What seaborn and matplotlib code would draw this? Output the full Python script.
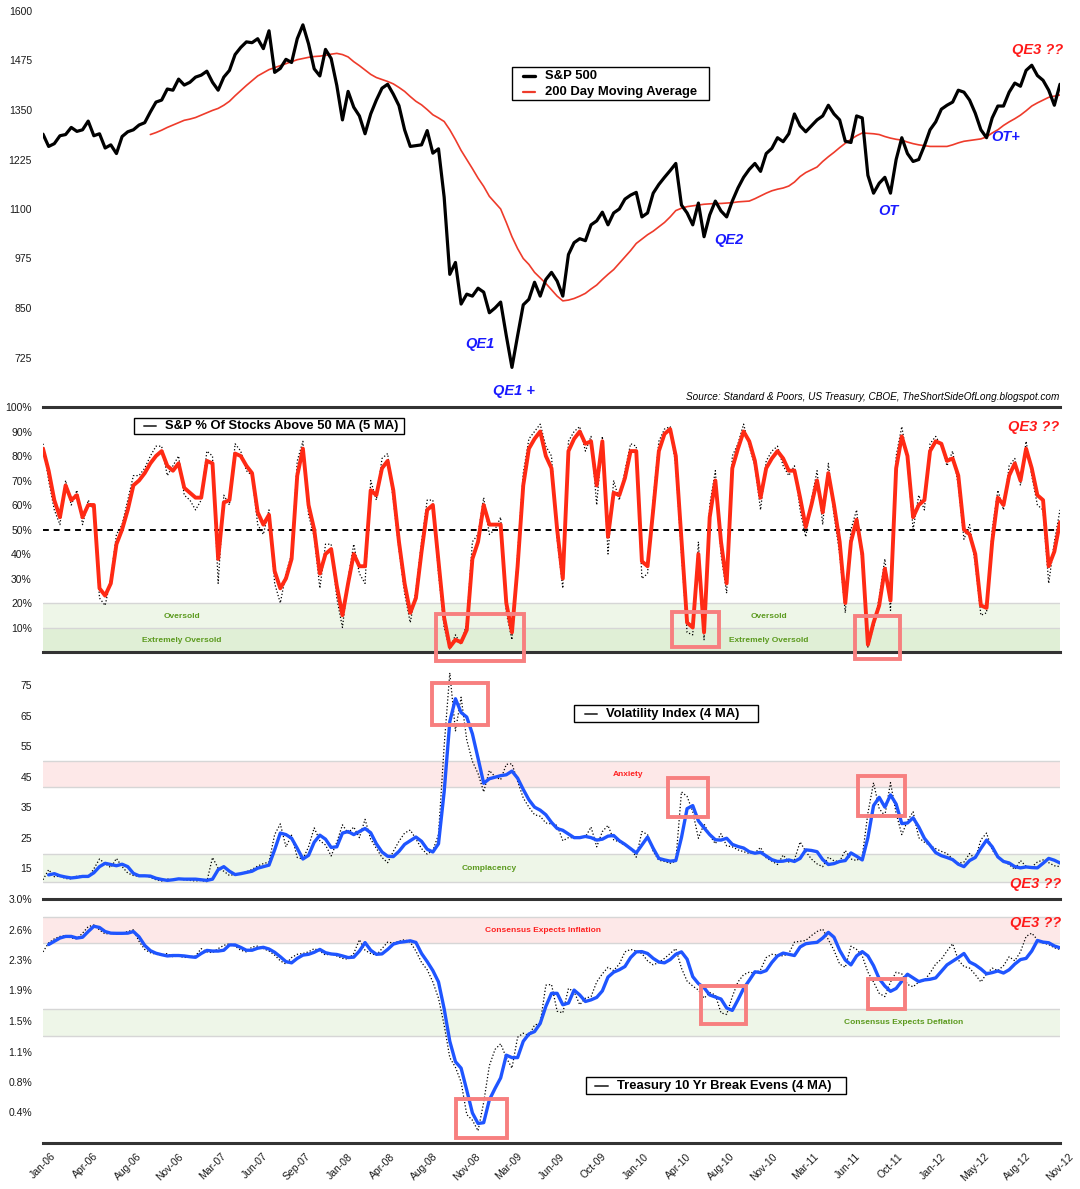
import numpy as np
import pandas as pd
import matplotlib
matplotlib.use("Agg")
import matplotlib.pyplot as plt
import seaborn as sns
from matplotlib.patches import Rectangle
from matplotlib.lines import Line2D

nan = np.nan

# biweekly readings, 6 Jan 2006 .. 30 Nov 2012
dates = pd.date_range("2006-01-06", periods=181, freq="14D")
tick_dates = pd.date_range("2006-01-06", periods=25, freq="105D")
x_tick_labels = ["Jan-06", "Apr-06", "Aug-06", "Nov-06", "Mar-07", "Jun-07", "Sep-07", "Jan-08",
                 "Apr-08", "Aug-08", "Nov-08", "Mar-09", "Jun-09", "Oct-09", "Jan-10", "Apr-10",
                 "Aug-10", "Nov-10", "Mar-11", "Jun-11", "Oct-11", "Jan-12", "May-12", "Aug-12", "Nov-12"]

sp500 = [1289, 1258, 1265, 1285, 1288, 1306, 1296, 1300, 1322, 1285, 1290, 1254, 1262, 1240, 1283, 1295,
         1300, 1312, 1318, 1345, 1370, 1375, 1403, 1400, 1428, 1413, 1420,
         1433, 1438, 1448, 1420, 1400, 1433, 1450, 1490, 1508, 1522, 1520, 1530, 1505, 1550, 1445, 1455,
         1478, 1470, 1530, 1565, 1517, 1454, 1436, 1503, 1480, 1412, 1325, 1397, 1357, 1335, 1290, 1340,
         1375, 1405, 1415, 1390, 1361, 1300, 1258, 1260, 1262, 1298, 1241, 1252, 1130, 935, 965, 860,
         885, 880, 900, 890, 838, 850, 865, 780, 700, 780, 858, 872, 915, 880,
         922, 940, 918, 880, 985, 1015, 1025, 1020, 1060, 1070, 1092, 1060, 1090, 1100, 1125, 1135,
         1142, 1080, 1090, 1140, 1162, 1180, 1197, 1215, 1110, 1090, 1060, 1115, 1030, 1085, 1120, 1095,
         1080, 1120, 1153, 1180, 1200, 1215, 1195, 1240, 1253, 1280, 1270, 1290, 1340, 1310, 1295, 1310,
         1325, 1335, 1362, 1340, 1325, 1271, 1268, 1335, 1330, 1185, 1140, 1165, 1180, 1140, 1225, 1280,
         1240, 1220, 1225, 1260, 1300, 1320, 1352, 1362, 1370, 1400, 1395, 1375, 1342, 1300, 1280, 1330,
         1360, 1360, 1395, 1418, 1410, 1450, 1463, 1437, 1425, 1400, 1362, 1415]

sp500_ma200 = [nan] * 19 + [
    1288, 1293, 1299, 1306, 1312, 1318, 1324, 1327,
    1331, 1337, 1343, 1349, 1354, 1362, 1372, 1386, 1399, 1412, 1424, 1436, 1444, 1452, 1457, 1462,
    1467, 1472, 1477, 1480, 1483, 1485, 1486, 1488, 1491, 1493, 1490, 1484, 1472, 1462, 1451, 1440,
    1432, 1427, 1422, 1416, 1407, 1397, 1384, 1372, 1363, 1351, 1338, 1330, 1321, 1300, 1275, 1248,
    1225, 1202, 1178, 1157, 1132, 1116, 1100, 1066, 1030, 1000, 975, 960, 940, 926,
    912, 896, 880, 868, 870, 874, 880, 887, 898, 908, 922, 935, 947, 963, 979, 995, 1013, 1024, 1035,
    1044, 1055, 1066, 1080, 1096, 1102, 1106, 1108, 1110, 1112, 1113, 1114, 1114, 1115, 1116, 1118,
    1119, 1120, 1126, 1133, 1140, 1146, 1150, 1153, 1158, 1168, 1182, 1192, 1199,
    1206, 1220, 1232, 1243, 1255, 1266, 1276, 1285, 1292, 1291, 1290, 1288, 1283, 1279, 1276, 1274,
    1269, 1265, 1262, 1260, 1258, 1258, 1258, 1258, 1262, 1267, 1271, 1273, 1275, 1277, 1282, 1292,
    1300, 1311, 1320, 1328, 1337, 1348, 1360, 1368, 1375, 1382, 1385, 1388]

above50_ma5 = [83, 74, 62, 55, 68, 62, 64, 55, 60, 60, 26, 23, 28, 44, 50, 58, 68, 70, 73, 77, 80, 82, 76,
               74, 77, 67, 65,
               63, 63, 78, 77, 38, 61, 62, 81, 80, 76, 73, 57, 52, 56, 33, 26, 30, 38, 72, 83, 60, 50, 32,
               40, 42, 27, 15, 28, 40, 35, 35, 66, 64, 75, 78, 66, 45, 28, 16, 22, 41, 58, 60, 37, 14, 2,
               5, 4, 9, 38, 45, 60, 52, 52, 52, 20, 8, 35, 68, 83, 87, 90,
               80, 75, 50, 30, 82, 87, 90, 85, 86, 68, 86, 47, 65, 64, 71, 82, 82, 37, 35, 58, 82, 89, 91,
               80, 46, 12, 10, 40, 8, 55, 70, 45, 28, 75, 83, 90, 86, 78, 63, 75, 79, 82, 79, 74, 74, 63,
               51, 60,
               70, 57, 73, 60, 45, 20, 45, 54, 40, 3, 12, 19, 34, 21, 75, 88, 80, 55, 60, 62, 82, 86, 85,
               78, 79, 72, 50, 48, 40, 19, 18, 45, 63, 60, 72, 77, 70, 83, 75, 64, 62, 35, 41, 53]

above50_raw = [85, 70, 58, 52, 70, 60, 66, 52, 62, 58, 22, 19, 30, 48, 52, 62, 72, 72, 75, 80, 84, 84, 72,
               76, 80, 64, 62,
               58, 62, 82, 80, 28, 64, 60, 85, 82, 74, 72, 52, 48, 58, 28, 20, 32, 40, 78, 86, 56, 47, 26,
               44, 44, 22, 10, 30, 44, 32, 28, 70, 62, 79, 81, 62, 42, 24, 12, 25, 45, 62, 62, 32, 10, 1,
               7, 3, 12, 45, 48, 63, 48, 50, 55, 16, 5, 40, 73, 87, 90, 93,
               84, 80, 46, 26, 86, 90, 92, 82, 88, 60, 88, 40, 70, 62, 74, 85, 84, 30, 32, 62, 86, 91, 92,
               76, 40, 8, 7, 45, 5, 60, 74, 40, 24, 80, 85, 93, 84, 76, 58, 78, 82, 84, 76, 72, 76, 58,
               47, 62,
               74, 52, 77, 56, 40, 16, 50, 58, 36, 2, 10, 22, 38, 17, 80, 92, 78, 50, 64, 58, 85, 88, 84,
               76, 82, 68, 46, 52, 36, 15, 16, 50, 66, 58, 76, 79, 68, 86, 72, 60, 58, 28, 45, 58]

vix_ma4 = [nan, 12.8, 13.2, 12.5, 12.1, 11.8, 12, 12.3, 12.3, 13.5, 15.5, 16.6, 16.2, 15.8, 16.3, 15.5,
           13.3, 12.5, 12.5, 12.4, 11.7, 11.3, 11, 11.2, 11.5, 11.4, 11.4,
           11.4, 11.2, 11, 11.4, 14.5, 15.5, 14, 12.9, 13.2, 13.6, 14, 15, 15.5, 16, 21, 26.5, 26, 24.8,
           21.5, 18, 19.2, 23.5, 25.8, 24.5, 21.8, 22, 26.5, 27, 26, 27, 28, 26.6, 23, 20.3, 18.9, 18.8,
           20.5, 22.8, 24, 25.2, 23.8, 21.2, 20.3, 23, 40, 63, 70.5, 66, 64.5, 59, 51, 42.8, 44.3, 44.8,
           45.3, 45.6, 46.8, 44.5, 40.8, 37.4, 35, 34,
           32.5, 30, 28, 27.4, 26.2, 25, 25, 25.4, 25, 24.2, 24.5, 25.5, 25.7, 24, 22.8, 21.4, 20, 22.6,
           25.2, 21.5, 18.2, 17.7, 17.3, 17.5, 25, 34.5, 35.5, 30.5, 28.2, 26, 24.3, 24.2, 24.8, 22.8,
           22.1, 21.6, 20.4, 19.9, 20.2, 19, 17.8, 17.2, 17.3, 17.7, 17.2, 18.2, 21, 20.8,
           20.4, 17.8, 16.2, 16.5, 17.2, 17.5, 20, 18.9, 17.7, 25, 35.5, 38.2, 35, 39, 36, 29.6, 29.8,
           31.5, 28.5, 24.8, 22.5, 20.1, 19.1, 18.5, 17.8, 16.3, 15.5, 17.5, 18.5, 21.5, 24.2, 22, 18.7,
           17.2, 16.7, 15.5, 15.1, 15.4, 15.2, 15.1, 16.6, 18.2, 17.6, 16.7]

vix_raw = [11.2, 14.5, 12.2, 12.4, 11.6, 11.5, 12.4, 12.3, 12, 14.8, 18, 16.5, 15.2, 18.2, 15.5, 13.4,
           12.6, 12.3, 12.6, 12, 11.2, 10.8, 11.5, 10.9, 11.6, 11.2, 11,
           10.8, 11, 10.6, 18.5, 15, 14, 12.6, 13, 13.2, 13.8, 14.6, 15.7, 16.5, 17, 26, 29.5, 22, 25.8,
           18.5, 18, 22, 28.2, 24, 22.6, 19, 23.5, 29.2, 26.5, 28.5, 25, 31, 24.5, 21.5, 18.5, 16.8,
           20.5, 23.8, 26.5, 27.5, 24.6, 21.4, 19.6, 20.8, 26, 55, 79, 60, 71, 57, 50, 46, 40, 47, 45,
           44, 49, 49.2, 43.5, 38, 35, 32.5, 32,
           29.8, 29.5, 29, 24, 25, 25, 25, 25.2, 28.5, 22, 27, 29, 24.3, 23.6, 22.5, 21.6, 18.6, 27, 26,
           20.5, 17.6, 17.2, 16.6, 17.3, 40, 38.5, 33.5, 24.8, 29.5, 25.8, 23, 26.3, 22.3, 22, 21, 20.4,
           19.8, 20, 21.8, 18.4, 17.3, 16.2, 19.3, 17, 17.8, 23.6, 20.5, 18,
           16.4, 15.5, 18.6, 17.4, 17.2, 20.8, 18, 17.5, 18.8, 33, 43, 34.5, 32.2, 43, 33, 26, 30.5,
           33.5, 25, 23.5, 22.4, 21.4, 20.5, 19.8, 18, 16.6, 17, 19.8, 18, 24.3, 26.5, 21, 18.5, 17.2,
           16.2, 14.6, 17.5, 15.6, 15.4, 17, 17.7, 16.8, 15.8, 15.5]

breakeven_ma4 = [nan, 2.44, 2.48, 2.52, 2.54, 2.54, 2.52, 2.53, 2.6, 2.665, 2.65, 2.6, 2.58, 2.578, 2.578,
                 2.58, 2.6, 2.535, 2.43, 2.365, 2.333, 2.315, 2.3, 2.305, 2.305, 2.3, 2.29,
                 2.283, 2.33, 2.368, 2.36, 2.36, 2.37, 2.435, 2.435, 2.405, 2.37, 2.37, 2.395, 2.406, 2.385,
                 2.345, 2.29, 2.23, 2.215, 2.27, 2.31, 2.32, 2.345, 2.38, 2.34, 2.324, 2.318, 2.3, 2.28,
                 2.285, 2.36, 2.464, 2.37, 2.32, 2.325, 2.38, 2.445, 2.466, 2.475, 2.486, 2.466, 2.33, 2.23,
                 2.12, 1.98, 1.65, 1.25, 1.0, 0.92, 0.65, 0.37, 0.24, 0.25, 0.53, 0.67,
                 0.8, 1.08, 1.05, 1.05, 1.25, 1.34, 1.37, 1.47,
                 1.68, 1.84, 1.84, 1.7, 1.72, 1.88, 1.82, 1.74, 1.76, 1.79, 1.87, 2.04, 2.1, 2.13, 2.17,
                 2.28, 2.35, 2.353, 2.33, 2.27, 2.225, 2.215, 2.255, 2.32, 2.35, 2.26, 2.045, 1.96, 1.91,
                 1.82, 1.795, 1.77, 1.66, 1.63, 1.76, 1.9, 2.0, 2.105, 2.095, 2.12, 2.22, 2.3, 2.335, 2.32,
                 2.305, 2.41, 2.45, 2.46,
                 2.467, 2.52, 2.59, 2.53, 2.37, 2.25, 2.19, 2.3, 2.353, 2.3, 2.18, 2.02, 1.93, 1.865, 1.9,
                 1.99, 2.075, 2.03, 1.985, 2.005, 2.013, 2.03, 2.11, 2.19, 2.235, 2.28, 2.33, 2.225, 2.19,
                 2.14, 2.08, 2.095, 2.115, 2.09, 2.13, 2.2, 2.255, 2.27, 2.36, 2.49, 2.47, 2.462, 2.423, 2.40]

breakeven_raw = [2.35, 2.46, 2.51, 2.54, 2.55, 2.52, 2.51, 2.58, 2.66, 2.68, 2.62, 2.57, 2.58, 2.57, 2.58,
                 2.6, 2.62, 2.48, 2.38, 2.34, 2.32, 2.31, 2.33, 2.29, 2.3, 2.28, 2.29,
                 2.3, 2.39, 2.35, 2.34, 2.39, 2.43, 2.45, 2.42, 2.37, 2.35, 2.41, 2.42, 2.39, 2.36, 2.31,
                 2.24, 2.2, 2.28, 2.32, 2.33, 2.35, 2.39, 2.36, 2.31, 2.33, 2.3, 2.27, 2.26, 2.33, 2.5,
                 2.37, 2.33, 2.31, 2.39, 2.47, 2.46, 2.48, 2.5, 2.47, 2.36, 2.22, 2.13, 1.98, 1.78, 1.45,
                 1.05, 0.93, 0.75, 0.35, 0.28, 0.15, 0.5, 0.95, 1.15,
                 1.22, 1.05, 0.92, 1.3, 1.35, 1.32, 1.45, 1.47,
                 1.94, 1.95, 1.62, 1.6, 1.9, 1.86, 1.7, 1.78, 1.8, 1.98, 2.08, 2.16, 2.12, 2.2, 2.35, 2.38,
                 2.36, 2.33, 2.24, 2.19, 2.22, 2.27, 2.33, 2.39, 2.15, 1.99, 1.93, 1.88, 1.78, 1.85, 1.82,
                 1.6, 1.58, 1.8, 1.98, 2.07, 2.1, 2.09, 2.13, 2.28, 2.32, 2.31, 2.3, 2.33, 2.47, 2.48, 2.49,
                 2.55,
                 2.6, 2.63, 2.5, 2.37, 2.2, 2.16, 2.42, 2.38, 2.3, 2.1, 1.98, 1.84, 1.8, 1.98, 2.1, 2.08,
                 1.95, 1.92, 1.98, 2.0, 2.09, 2.2, 2.26, 2.36, 2.45, 2.25, 2.17, 2.15, 2.07, 1.98, 2.08,
                 2.15, 2.12, 2.18, 2.29, 2.24, 2.35, 2.54, 2.58, 2.5, 2.46, 2.44, 2.4, 2.38]

sp_ticks = [725, 850, 975, 1100, 1225, 1350, 1475, 1600]
pct_ticks = [10, 20, 30, 40, 50, 60, 70, 80, 90, 100]
vix_ticks = [15, 25, 35, 45, 55, 65, 75]
be_ticks = [0.375, 0.75, 1.125, 1.5, 1.875, 2.25, 2.625, 3.0]
be_tick_labels = ["0.4%", "0.8%", "1.1%", "1.5%", "1.9%", "2.3%", "2.6%", "3.0%"]

W, H = 1080, 1189
sns.set_style("white")
plt.rcParams["font.family"] = ["Liberation Sans", "DejaVu Sans"]

RED_BOX = "#f77f7f"
BLUE = "#1f55ff"
BAND_GREEN = "#eef6e8"
BAND_GREEN2 = "#e0efd6"
BAND_PINK = "#fde8e8"
EDGE = "#d6d6d6"
TXT_GREEN = "#5b9a1e"


def rect(top, bottom):
    return [43 / W, 1 - bottom / H, 1017 / W, (bottom - top) / H]


def fx(x):
    return x / W


def fy(y):
    return 1 - y / H


fig = plt.figure(figsize=(W / 100, H / 100), dpi=100)
ax1 = fig.add_axes(rect(11, 407))
ax2 = fig.add_axes(rect(407, 652))
ax3 = fig.add_axes(rect(654.5, 898.7))
ax4 = fig.add_axes(rect(899, 1143))

df_sp = pd.DataFrame({"date": dates, "sp": sp500, "ma": sp500_ma200})
df_pct = pd.DataFrame({"date": dates, "raw": above50_raw, "ma": above50_ma5})
df_vix = pd.DataFrame({"date": dates, "raw": vix_raw, "ma": vix_ma4})
df_be = pd.DataFrame({"date": dates, "raw": breakeven_raw, "ma": breakeven_ma4})

# panel 1: S&P 500 and its 200 day average
sns.lineplot(data=df_sp, x="date", y="ma", ax=ax1, color="#ee3b2b", linewidth=1.2, estimator=None)
sns.lineplot(data=df_sp, x="date", y="sp", ax=ax1, color="black", linewidth=2.3, estimator=None)
ax1.set_ylim(600, 1600)
ax1.set_yticks(sp_ticks)

# panel 2: % of stocks above 50 MA
ax2.axhspan(0, 10, color=BAND_GREEN2, zorder=0, lw=0)
ax2.axhspan(10, 20, color=BAND_GREEN, zorder=0, lw=0)
ax2.axhline(10, color=EDGE, lw=1, zorder=0.5)
ax2.axhline(20, color=EDGE, lw=1, zorder=0.5)
ax2.axhline(50, color="black", lw=1.4, ls=(0, (3, 2.5)), zorder=1)
sns.lineplot(data=df_pct, x="date", y="raw", ax=ax2, color="black", linewidth=0.9, linestyle=":", estimator=None)
sns.lineplot(data=df_pct, x="date", y="ma", ax=ax2, color="#ff2a14", linewidth=2.8, estimator=None)
ax2.set_ylim(0, 100)
ax2.set_yticks(pct_ticks)
ax2.set_yticklabels([f"{t}%" for t in pct_ticks])

# panel 3: VIX
for lo, hi, c in [(41.5, 50, BAND_PINK), (10.5, 19.5, BAND_GREEN)]:
    ax3.axhspan(lo, hi, color=c, zorder=0, lw=0)
    ax3.axhline(lo, color=EDGE, lw=1, zorder=0.5)
    ax3.axhline(hi, color=EDGE, lw=1, zorder=0.5)
sns.lineplot(data=df_vix, x="date", y="raw", ax=ax3, color="black", linewidth=0.9, linestyle=":", estimator=None)
sns.lineplot(data=df_vix, x="date", y="ma", ax=ax3, color=BLUE, linewidth=2.4, estimator=None)
ax3.set_ylim(5, 85)
ax3.set_yticks(vix_ticks)

# panel 4: 10 yr breakevens
for lo, hi, c in [(2.455, 2.775, BAND_PINK), (1.32, 1.65, BAND_GREEN)]:
    ax4.axhspan(lo, hi, color=c, zorder=0, lw=0)
    ax4.axhline(lo, color=EDGE, lw=1, zorder=0.5)
    ax4.axhline(hi, color=EDGE, lw=1, zorder=0.5)
sns.lineplot(data=df_be, x="date", y="raw", ax=ax4, color="black", linewidth=0.9, linestyle=":", estimator=None)
sns.lineplot(data=df_be, x="date", y="ma", ax=ax4, color=BLUE, linewidth=2.4, estimator=None)
ax4.set_ylim(0, 3.0)
ax4.set_yticks(be_ticks)
ax4.set_yticklabels(be_tick_labels)

for ax in (ax1, ax2, ax3, ax4):
    ax.set_xlim(dates[0], dates[-1])
    ax.set_xlabel("")
    ax.set_ylabel("")
    for side in ("left", "top", "right"):
        ax.spines[side].set_visible(False)
    ax.spines["bottom"].set_linewidth(2.2)
    ax.spines["bottom"].set_color("#333333")
    ax.tick_params(axis="y", length=0, pad=8, labelsize=7.5, labelcolor="#1a1a1a")
    ax.patch.set_alpha(0)
    if ax is not ax4:
        ax.set_xticks([])

ax4.set_xticks(tick_dates)
ax4.set_xticklabels(x_tick_labels, rotation=45, ha="center", fontsize=7.5, color="#1a1a1a")
ax4.tick_params(axis="x", length=0, pad=6)


# legend boxes drawn in figure pixels
def legend_box(x0, y0, x1, y1, rows):
    fig.patches.append(Rectangle((fx(x0), fy(y1)), (x1 - x0) / W, (y1 - y0) / H, transform=fig.transFigure,
                                 facecolor="white", edgecolor="black", lw=1.0))
    for hx0, hx1, ty, color, lw, tx, label in rows:
        fig.add_artist(Line2D([fx(hx0), fx(hx1)], [fy(ty), fy(ty)], transform=fig.transFigure, color=color, lw=lw))
        fig.text(fx(tx), fy(ty), label, va="center", ha="left", fontsize=9.4, fontweight="bold", color="black")


legend_box(512, 67, 709, 100, [(523, 535, 76, "black", 2.4, 545, "S&P 500"),
                               (523, 535, 92, "#ee3b2b", 1.6, 545, "200 Day Moving Average")])
legend_box(134, 418, 404, 434, [(144, 156, 426, "#444444", 1.4, 165, "S&P % Of Stocks Above 50 MA (5 MA)")])
legend_box(574, 705, 758, 722, [(585, 597, 714, "#444444", 1.4, 606, "Volatility Index (4 MA)")])
legend_box(586, 1077, 846, 1094, [(595, 608, 1085.5, "#444444", 1.4, 617, "Treasury 10 Yr Break Evens (4 MA)")])

# red highlight boxes
for x0, y0, x1, y1 in [(436, 614, 524, 661), (672, 612, 719, 647), (855, 616, 900, 659),
                       (432, 683, 488, 725), (668, 778, 708, 817), (858, 776, 905, 816),
                       (456, 1099, 507, 1138), (701, 986, 746, 1024), (868, 979, 905, 1009)]:
    fig.patches.append(Rectangle((fx(x0), fy(y1)), (x1 - x0) / W, (y1 - y0) / H, transform=fig.transFigure,
                                 fill=False, edgecolor=RED_BOX, lw=2.8))

# annotations
qe_blue = "#1a1aff"
for x, y, s in [(480, 344, "QE1"), (514, 391, "QE1 +"), (729, 240, "QE2"), (888, 211, "OT"), (1006, 137, "OT+")]:
    fig.text(fx(x), fy(y), s, ha="center", va="center", color=qe_blue, fontsize=10.5,
             fontweight="bold", fontstyle="italic")
for x, y in [(1038, 50), (1034, 427), (1036, 884), (1036, 923)]:
    fig.text(fx(x), fy(y), "QE3 ??", ha="center", va="center", color="#ff1a1a", fontsize=10.5,
             fontweight="bold", fontstyle="italic")

fig.text(fx(1059), fy(397), "Source: Standard & Poors, US Treasury, CBOE, TheShortSideOfLong.blogspot.com",
         ha="right", va="center", fontsize=7.2, fontstyle="italic", color="black")

for x, y, s, c in [(182, 616, "Oversold", TXT_GREEN), (182, 640.5, "Extremely Oversold", TXT_GREEN),
                   (769, 616, "Oversold", TXT_GREEN), (769, 640.5, "Extremely Oversold", TXT_GREEN),
                   (628, 775, "Anxiety", "#ff2020"), (489, 869, "Complacency", TXT_GREEN),
                   (543, 931, "Consensus Expects Inflation", "#ff2020"),
                   (904, 1023, "Consensus Expects Deflation", TXT_GREEN)]:
    fig.text(fx(x), fy(y), s, ha="center", va="center", fontsize=6, fontweight="bold", color=c)

fig.savefig("out.png", dpi=100)
